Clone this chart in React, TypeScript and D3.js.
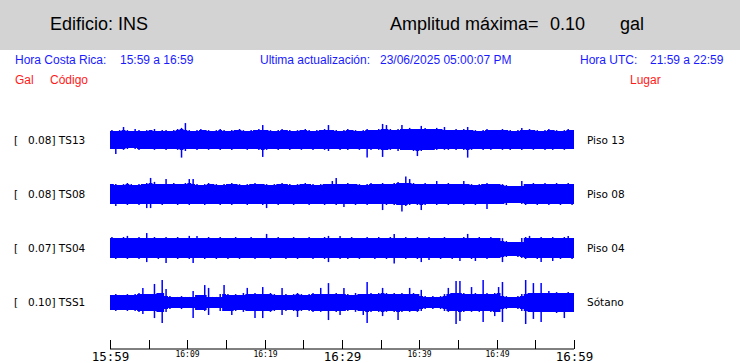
import { useEffect, useRef } from 'react';
import * as d3 from 'd3';

// channel info
const codes = ['TS13', 'TS08', 'TS04', 'TSS1'];
const places = ['Piso 13', 'Piso 08', 'Piso 04', 'Sótano'];
const maxAmp = [0.08, 0.08, 0.07, 0.10];

// envelope per 30 s bin (mgal), positive side / negative side
const ts13Up = [
  45,41,45,59,45,41,50,45,41,45, 45,50,41,45,45,41,45,50,55,77,
  45,41,45,50,45,45,41,45,50,45, 41,45,45,50,45,41,45,45,50,68,
  45,45,41,45,50,45,45,41,45,45, 50,45,41,45,45,50,68,45,45,41,
  45,50,45,45,41,45,50,45,45,50, 73,68,50,45,50,68,50,55,50,50,
  64,55,50,50,55,50,59,45,45,50, 45,50,59,45,45,41,45,50,45,45,
  45,50,45,45,41,45,55,45,50,45, 45,41,45,50,45,45,41,45,50,45,
];
const ts13Down = [
  41,64,41,45,41,36,41,45,41,41, 41,45,41,41,45,41,41,45,80,50,
  41,41,45,41,41,45,41,41,45,41, 41,45,41,41,41,45,41,41,45,77,
  45,41,41,45,41,41,45,41,41,45, 41,41,45,41,41,45,50,41,41,45,
  41,45,41,41,45,41,80,45,41,45, 77,45,45,41,50,45,45,45,50,73,
  50,45,45,45,45,41,45,45,41,45, 41,45,80,45,41,41,45,41,45,41,
  41,45,41,45,41,41,45,41,41,45, 41,41,45,41,45,41,41,45,41,41,
];
const ts08Up = [
  45,45,41,45,50,45,41,45,45,50, 73,55,45,45,68,45,50,45,45,50,
  68,68,45,41,45,50,45,45,41,45, 45,50,45,45,41,45,45,50,45,45,
  45,41,45,45,50,45,45,41,45,45, 50,45,45,41,45,45,45,59,73,45,
  45,50,45,45,45,41,45,50,45,45, 50,45,45,50,55,50,80,68,50,45,
  45,50,45,45,59,45,45,50,45,45, 45,59,45,45,41,45,45,50,45,45,
  45,45,41,36,36,36,59,45,45,50, 45,45,50,45,45,50,45,45,50,45,
];
const ts08Down = [
  45,55,45,45,50,45,45,50,45,64, 64,45,45,50,45,45,45,50,45,45,
  50,45,45,45,50,45,45,45,50,45, 45,50,45,45,45,50,45,45,45,50,
  64,45,45,50,45,45,45,50,45,45, 45,50,45,45,45,50,45,45,50,45,
  59,45,45,50,45,45,50,45,45,45, 73,50,45,50,50,80,55,50,45,50,
  73,50,45,45,50,45,45,50,45,45, 45,50,45,45,50,45,45,68,45,45,
  45,45,50,41,41,41,45,50,45,45, 50,45,45,50,45,45,50,45,45,50,
];
const ts04Up = [
  50,45,45,50,55,45,45,50,45,68, 45,50,45,45,50,45,45,50,45,45,
  55,45,55,45,45,50,45,45,50,45, 45,45,50,45,45,45,50,45,45,45,
  64,45,45,50,45,45,45,50,45,45, 45,50,45,45,45,50,55,45,45,55,
  45,45,50,45,45,45,50,45,45,50, 45,45,50,64,45,45,50,45,45,50,
  45,45,50,45,45,45,50,45,45,45, 45,50,64,45,45,50,45,45,50,45,
  45,45,32,27,27,27,45,50,55,45, 45,50,45,45,50,45,45,50,55,45,
];
const ts04Down = [
  45,50,45,45,50,45,45,50,45,64, 45,45,50,45,68,45,45,50,45,45,
  50,68,45,45,50,45,45,50,45,45, 50,45,45,50,45,45,45,50,45,45,
  45,50,45,45,45,50,45,45,50,45, 45,45,50,45,45,50,64,45,45,50,
  45,50,45,45,50,45,45,45,50,45, 45,50,45,70,45,45,50,45,45,50,
  64,45,55,45,45,50,45,45,50,45, 59,45,45,50,59,45,45,50,45,45,
  45,64,41,36,36,41,45,50,45,45, 50,64,45,45,59,45,50,45,45,50,
];
const tss1Up = [
  32,36,32,32,36,32,36,41,64,36, 36,82,41,100,59,27,23,23,27,23,
  23,50,32,32,77,64,23,23,36,77, 36,32,36,32,41,64,36,41,36,68,
  36,41,36,32,64,36,32,36,41,36, 32,36,41,36,64,36,86,36,41,36,
  64,36,32,41,36,36,91,41,36,41, 64,41,36,41,36,41,36,64,41,36,
  55,27,23,27,23,27,36,64,41,95, 95,41,36,68,41,36,100,41,36,41,
  68,91,27,23,23,27,36,100,41,86, 41,86,41,50,41,45,41,41,45,41,
];
const tss1Down = [
  36,41,36,36,41,36,41,45,55,41, 41,73,45,95,45,32,27,27,32,27,
  27,73,36,36,41,59,27,27,41,41, 41,59,41,36,45,41,41,73,41,73,
  41,45,41,36,59,41,36,41,68,41, 36,41,45,41,45,41,82,41,45,59,
  41,41,36,45,41,59,95,45,41,45, 64,45,41,45,82,45,41,45,41,45,
  41,32,27,32,27,32,41,45,41,100, 86,45,41,45,41,45,91,41,45,64,
  45,91,32,27,27,32,41,100,45,77, 45,91,45,45,45,50,45,73,45,45,
];
const upSeries = [ts13Up, ts08Up, ts04Up, tss1Up];
const downSeries = [ts13Down, ts08Down, ts04Down, tss1Down];

const startTime = new Date(2025, 5, 23, 15, 59);
const endTime = new Date(2025, 5, 23, 16, 59);
const bigLabels = [0, 30, 60]; // minutes from start drawn large

type Bin = { t: Date; u: number; d: number; bu: number; bd: number };

export default function App() {
  const svgRef = useRef<SVGSVGElement | null>(null);

  useEffect(() => {
    if (!svgRef.current) return;
    const svg = d3.select(svgRef.current);
    svg.selectAll('*').remove();

    const W = 740, H = 363;
    svg.attr('width', W).attr('height', H);

    // header band
    svg.append('rect').attr('width', W).attr('height', 50).attr('fill', '#d3d3d3');
    const head = svg.append('g')
      .style('font-family', 'Liberation Sans, Arial, sans-serif')
      .style('font-size', '18px')
      .attr('fill', '#000');
    head.append('text').attr('x', 50).attr('y', 30).text('Edificio: INS');
    head.append('text').attr('x', 390).attr('y', 30).text('Amplitud máxima=');
    head.append('text').attr('x', 550).attr('y', 30).text(d3.format('.2f')(d3.max(maxAmp)!));
    head.append('text').attr('x', 620).attr('y', 30).text('gal');

    const info = svg.append('g')
      .style('font-family', 'Liberation Sans, Arial, sans-serif')
      .style('font-size', '12px');
    const blue = [
      [15, 'Hora Costa Rica:'], [120, '15:59 a 16:59'],
      [260, 'Ultima actualización:'], [380, '23/06/2025 05:00:07 PM'],
      [580, 'Hora UTC:'], [650, '21:59 a 22:59'],
    ];
    blue.forEach(([x, t]) => info.append('text').attr('x', x).attr('y', 64).attr('fill', '#1a1aff').text(t as string));
    const red = [[15, 'Gal'], [50, 'Código'], [630, 'Lugar']];
    red.forEach(([x, t]) => info.append('text').attr('x', x).attr('y', 84).attr('fill', '#ff1a1a').text(t as string));

    // scales
    const x = d3.scaleTime().domain([startTime, endTime]).range([110, 574]);
    const yRow = d3.scalePoint<string>().domain(codes).range([140, 302]);
    const amp = d3.scaleLinear().domain([0, 100]).range([0, 22]);

    const labels = svg.append('g')
      .style('font-family', 'DejaVu Sans, sans-serif')
      .style('font-size', '10.5px')
      .attr('fill', '#000');

    codes.forEach((code, k) => {
      const cy = yRow(code)!;
      const up = upSeries[k];
      const down = downSeries[k];
      // body = local minimum over neighbours, single-bin peaks drawn as thin strokes
      const bins: Bin[] = up.map((u, i) => ({
        t: d3.timeSecond.offset(startTime, i * 30),
        u, d: down[i],
        bu: d3.min(up.slice(Math.max(0, i - 1), i + 2))!,
        bd: d3.min(down.slice(Math.max(0, i - 1), i + 2))!,
      }));
      const last = bins[bins.length - 1];
      const areaBins = [...bins, { ...last, t: endTime }];

      const area = d3.area<Bin>()
        .x(d => x(d.t))
        .y0(d => cy + amp(d.bd))
        .y1(d => cy - amp(d.bu))
        .curve(d3.curveStepAfter);

      const g = svg.append('g');
      g.append('path')
        .attr('d', area(areaBins))
        .attr('fill', '#0000ff');

      const half = (x(d3.timeSecond.offset(startTime, 30)) - x(startTime)) / 2;
      g.selectAll('line')
        .data(bins)
        .enter()
        .append('line')
        .attr('x1', d => x(d.t) + half)
        .attr('x2', d => x(d.t) + half)
        .attr('y1', d => cy - amp(d.u))
        .attr('y2', d => cy + amp(d.d))
        .attr('stroke', '#0000ff')
        .attr('stroke-width', 1.5);

      labels.append('text').attr('x', 14).attr('y', cy + 4).text('[');
      labels.append('text').attr('x', 28).attr('y', cy + 4)
        .text(`${d3.format('.2f')(maxAmp[k])}] ${code}`);
      labels.append('text').attr('x', 587).attr('y', cy + 4).text(places[k]);
    });

    // time axis
    const axisY = 349;
    const axis = svg.append('g');
    axis.append('line')
      .attr('x1', x(startTime)).attr('x2', x(endTime))
      .attr('y1', axisY).attr('y2', axisY)
      .attr('stroke', '#000').attr('stroke-width', 1);
    const tickMins = d3.range(0, 61, 5);
    tickMins.forEach(m => {
      const t = d3.timeMinute.offset(startTime, m);
      const tx = Math.round(x(t)) + 0.5;
      axis.append('line')
        .attr('x1', tx).attr('x2', tx)
        .attr('y1', axisY - 9).attr('y2', axisY)
        .attr('stroke', '#000');
      if (m % 10 === 0) {
        const big = bigLabels.includes(m);
        axis.append('text')
          .attr('x', tx)
          .attr('y', big ? 361 : 357)
          .attr('text-anchor', 'middle')
          .style('font-family', 'DejaVu Sans Mono, monospace')
          .style('font-size', big ? '12.5px' : '8px')
          .text(d3.timeFormat('%H:%M')(t));
      }
    });
  }, []);

  return (
    <div style={{ position: 'absolute', left: 0, top: 0, background: '#fff' }}>
      <svg ref={svgRef} style={{ display: 'block' }}></svg>
    </div>
  );
}
